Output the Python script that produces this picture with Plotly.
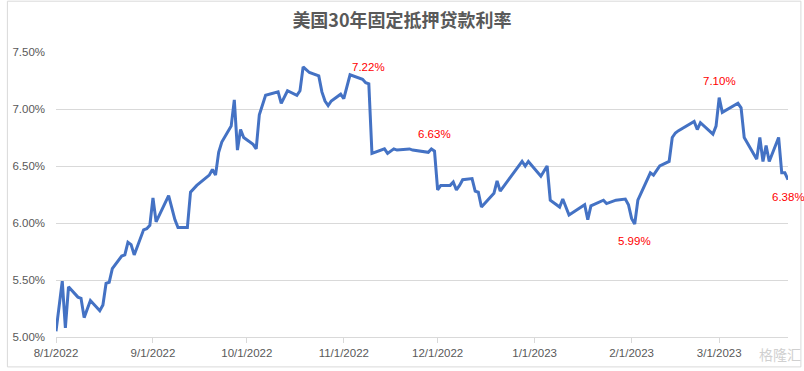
import plotly.graph_objects as go

# ---- data ----
dates = [
    "2022-08-01", "2022-08-03", "2022-08-04", "2022-08-05", "2022-08-08", "2022-08-09",
    "2022-08-10", "2022-08-12", "2022-08-15", "2022-08-16", "2022-08-17", "2022-08-18",
    "2022-08-19", "2022-08-22", "2022-08-23", "2022-08-24", "2022-08-25", "2022-08-26",
    "2022-08-29", "2022-08-30", "2022-08-31", "2022-09-01", "2022-09-02", "2022-09-06",
    "2022-09-08", "2022-09-09", "2022-09-12", "2022-09-13", "2022-09-15", "2022-09-19",
    "2022-09-20", "2022-09-21", "2022-09-22", "2022-09-23", "2022-09-26", "2022-09-27",
    "2022-09-28", "2022-09-29", "2022-09-30", "2022-10-03", "2022-10-04", "2022-10-05",
    "2022-10-07", "2022-10-11", "2022-10-12", "2022-10-14", "2022-10-17", "2022-10-18",
    "2022-10-19", "2022-10-21", "2022-10-24", "2022-10-25", "2022-10-26", "2022-10-27",
    "2022-10-28", "2022-10-31", "2022-11-01", "2022-11-03", "2022-11-07", "2022-11-08",
    "2022-11-09", "2022-11-10", "2022-11-14", "2022-11-15", "2022-11-17", "2022-11-18",
    "2022-11-22", "2022-11-23", "2022-11-28", "2022-11-29", "2022-11-30", "2022-12-01",
    "2022-12-02", "2022-12-05", "2022-12-06", "2022-12-07", "2022-12-08", "2022-12-09",
    "2022-12-12", "2022-12-13", "2022-12-14", "2022-12-15", "2022-12-19", "2022-12-20",
    "2022-12-21", "2022-12-28", "2022-12-29", "2022-12-30", "2023-01-03", "2023-01-05",
    "2023-01-06", "2023-01-09", "2023-01-10", "2023-01-12", "2023-01-17", "2023-01-18",
    "2023-01-19", "2023-01-23", "2023-01-24", "2023-01-27", "2023-01-30", "2023-01-31",
    "2023-02-01", "2023-02-02", "2023-02-03", "2023-02-07", "2023-02-08", "2023-02-10",
    "2023-02-13", "2023-02-14", "2023-02-15", "2023-02-16", "2023-02-21", "2023-02-22",
    "2023-02-23", "2023-02-27", "2023-02-28", "2023-03-01", "2023-03-02", "2023-03-07",
    "2023-03-08", "2023-03-09", "2023-03-13", "2023-03-14", "2023-03-15", "2023-03-16",
    "2023-03-17", "2023-03-20", "2023-03-21", "2023-03-22", "2023-03-23",
]
rates = [
    5.05, 5.49, 5.08, 5.44, 5.35, 5.34,
    5.17, 5.32, 5.23, 5.28, 5.47, 5.48,
    5.60, 5.71, 5.72, 5.83, 5.81, 5.72,
    5.94, 5.95, 5.98, 6.22, 6.01, 6.24,
    6.03, 5.96, 5.96, 6.27, 6.33, 6.42,
    6.47, 6.42, 6.62, 6.71, 6.85, 7.08,
    6.64, 6.82, 6.75, 6.69, 6.65, 6.95,
    7.12, 7.15, 7.05, 7.16, 7.12, 7.16,
    7.37, 7.32, 7.29, 7.15, 7.07, 7.03,
    7.07, 7.13, 7.09, 7.30, 7.26, 7.23,
    7.22, 6.61, 6.65, 6.61, 6.65, 6.64,
    6.65, 6.64, 6.62, 6.65, 6.63, 6.29,
    6.33, 6.33, 6.36, 6.29, 6.33, 6.38,
    6.39, 6.28, 6.27, 6.14, 6.26, 6.37,
    6.28, 6.54, 6.50, 6.54, 6.41, 6.50,
    6.20, 6.14, 6.21, 6.07, 6.16, 6.03,
    6.15, 6.20, 6.17, 6.20, 6.21, 6.16,
    6.04, 5.99, 6.20, 6.44, 6.42, 6.50,
    6.54, 6.75, 6.79, 6.81, 6.89, 6.82,
    6.88, 6.78, 6.85, 7.10, 6.97, 7.05,
    7.01, 6.75, 6.56, 6.75, 6.54, 6.68,
    6.54, 6.75, 6.44, 6.44, 6.38,
]

label_dates = ["2022-11-09", "2022-11-30", "2023-02-02", "2023-03-01", "2023-03-23"]
label_texts = ["7.22%", "6.63%", "5.99%", "7.10%", "6.38%"]
label_above = [True, True, False, True, False]

x_tick_vals = ["2022-08-01", "2022-09-01", "2022-10-01", "2022-11-01", "2022-12-01",
               "2023-01-01", "2023-02-01", "2023-03-01"]
x_tick_text = ["8/1/2022", "9/1/2022", "10/1/2022", "11/1/2022", "12/1/2022",
               "1/1/2023", "2/1/2023", "3/1/2023"]
y_tick_vals = [5.0, 5.5, 6.0, 6.5, 7.0, 7.5]
y_tick_text = ["5.00%", "5.50%", "6.00%", "6.50%", "7.00%", "7.50%"]

title_text = "美国30年固定抵押贷款利率"

# ---- layout constants ----
W, H = 804, 371
ML, MR, MT, MB = 50, 16, 52, 33
PW, PH = W - ML - MR, H - MT - MB
GRID = "#D9D9D9"
TXT = "#595959"
TICKFONT = dict(family="Liberation Sans, Arial, sans-serif", size=11.5, color=TXT)

fig = go.Figure()
fig.add_trace(go.Scatter(
    x=dates, y=rates, mode="lines",
    line=dict(color="#4472C4", width=3),
    hoverinfo="x+y", showlegend=False,
))

rate_by_date = dict(zip(dates, rates))
annotations = []
for d, t, up in zip(label_dates, label_texts, label_above):
    annotations.append(dict(
        x=d, y=rate_by_date[d], xref="x", yref="y", text=t, showarrow=False,
        yshift=17 if up else -17,
        font=dict(family="Liberation Sans, Arial, sans-serif", size=11.5, color="#FF0000"),
    ))

# watermark text
annotations.append(dict(
    x=(780 - ML) / PW, y=(H - MB - 355) / PH, xref="paper", yref="paper",
    xanchor="center", yanchor="middle",
    text="格隆汇", showarrow=False,
    font=dict(family="Noto Sans CJK SC", size=14, color="#D0D0D0"),
))

fig.update_layout(
    width=W, height=H,
    margin=dict(l=ML, r=MR, t=MT, b=MB),
    paper_bgcolor="white", plot_bgcolor="white",
    title=dict(
        text=title_text, x=0.5, xanchor="center", xref="container",
        y=1 - 21 / H, yanchor="middle", yref="container",
        font=dict(family="Noto Sans CJK SC", size=18, color=TXT, weight=700),
    ),
    xaxis=dict(
        type="date", range=["2022-08-01", "2023-03-23"],
        tickmode="array", tickvals=x_tick_vals, ticktext=x_tick_text,
        showgrid=False, zeroline=False,
        showline=True, linecolor=GRID, linewidth=1,
        ticks="outside", ticklen=5, tickcolor=GRID, tickwidth=1,
        tickfont=TICKFONT,
    ),
    yaxis=dict(
        range=[5.0, 7.5], tickmode="array", tickvals=y_tick_vals, ticktext=y_tick_text,
        showgrid=True, gridcolor=GRID, gridwidth=1, zeroline=False,
        showline=False, ticks="", ticklabelstandoff=10,
        tickfont=TICKFONT,
    ),
    annotations=annotations,
    shapes=[dict(
        type="rect", xref="paper", yref="paper",
        x0=(1 - ML) / PW, x1=(801 - ML) / PW,
        y0=(H - MB - 368) / PH, y1=(H - MB - 1) / PH,
        line=dict(color=GRID, width=1), fillcolor="rgba(0,0,0,0)", layer="below",
    )],
)

fig.write_html(
    "out.html",
    config={"displayModeBar": False},
    post_script="document.body.style.margin='0';document.body.style.overflow='hidden';",
)
